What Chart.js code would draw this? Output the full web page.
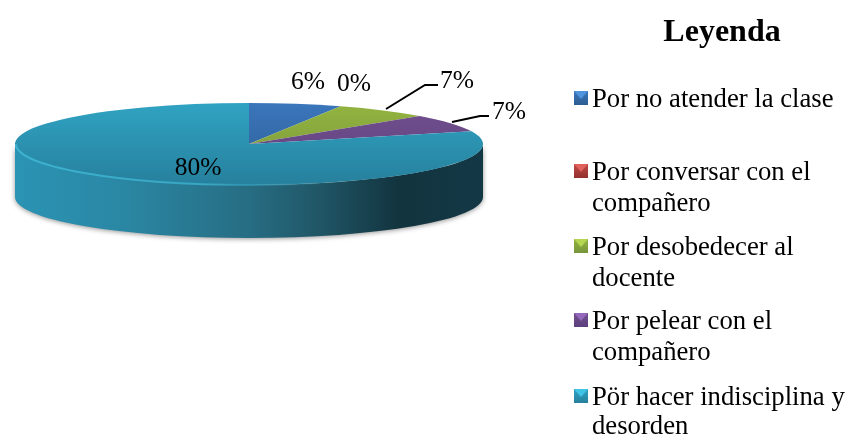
<!DOCTYPE html>
<html>
<head>
<meta charset="utf-8">
<title>Leyenda</title>
<style>
  html, body { margin: 0; padding: 0; background: #fff; overflow: hidden; }
  canvas { display: block; }
</style>
<script src="https://cdn.jsdelivr.net/npm/chart.js@4"></script>
</head>
<body>
<canvas id="pie" width="848" height="434"></canvas>
<script>
const categories = [
  ["Por no atender la clase"],
  ["Por conversar con el", "compañero"],
  ["Por desobedecer al", "docente"],
  ["Por pelear con el", "compañero"],
  ["Pör hacer indisciplina y", "desorden"]
];
// slices as they measure on the picture; the labels show them rounded
const values = [6.4, 0, 6.6, 7, 80];
const topColors = ["#3b76bb", "#bf4a47", "#93b440", "#73508f", "#30a3c2"];
const lowColors = ["#2c5c92", "#93302e", "#76953a", "#5c3f7c", "#26809d"];
const keyColors = ["#4f93dc", "#e0605c", "#b4d650", "#9468bc", "#3fc4e6"];

// layout of the flattened pie and the text around it
const FONT = '"Liberation Serif", "Times New Roman", serif';
const center = { x: 249, y: 144 };
const radiusX = 234, radiusY = 41, depth = 53;
const labelPos = [[308, 82], [354, 84], [457, 81], [509, 112], [198, 168]];
const leaders = [
  [[386, 109], [425, 85], [438, 85]],
  [[452, 122], [480, 116], [489, 116]]
];
const legendBaselines = [[107], [180, 211], [255, 286], [329, 360], [405, 434]];

const flatten3d = {
  id: "flatten3d",
  beforeDatasetsDraw(chart) {
    const ctx = chart.ctx;
    const arc = chart.getDatasetMeta(0).data[0];

    // pared frontal, solo se ve la ultima rebanada
    ctx.save();
    ctx.shadowColor = "rgba(60,60,60,0.55)";
    ctx.shadowBlur = 5;
    ctx.shadowOffsetY = 1;
    const side = ctx.createLinearGradient(center.x - radiusX, 0, center.x + radiusX, 0);
    side.addColorStop(0, "#2b93b4");
    side.addColorStop(0.22, "#2a88a5");
    side.addColorStop(0.5, "#276d83");
    side.addColorStop(0.65, "#205666");
    side.addColorStop(0.82, "#12343f");
    side.addColorStop(1, "#133845");
    ctx.fillStyle = side;
    ctx.beginPath();
    ctx.ellipse(center.x, center.y, radiusX, radiusY, 0, 0, Math.PI);
    ctx.lineTo(center.x - radiusX, center.y + depth);
    ctx.ellipse(center.x, center.y + depth, radiusX, radiusY, 0, Math.PI, 0, true);
    ctx.closePath();
    ctx.fill();
    ctx.restore();

    ctx.save();
    ctx.translate(center.x, center.y);
    ctx.scale(radiusX / arc.outerRadius, radiusY / arc.outerRadius);
    ctx.translate(-arc.x, -arc.y);
  },
  afterDatasetsDraw(chart) {
    const ctx = chart.ctx;
    ctx.restore();

    // bisel del borde, se apaga hacia la derecha
    const rim = ctx.createLinearGradient(center.x - radiusX, 0, center.x + radiusX, 0);
    rim.addColorStop(0, "rgba(60,178,208,1)");
    rim.addColorStop(0.4, "rgba(56,170,198,0.9)");
    rim.addColorStop(0.68, "rgba(48,150,178,0)");
    rim.addColorStop(1, "rgba(48,150,178,0)");
    ctx.strokeStyle = rim;
    ctx.lineWidth = 2;
    ctx.beginPath();
    ctx.ellipse(center.x, center.y, radiusX - 1, radiusY, 0, 0, Math.PI);
    ctx.stroke();

    ctx.strokeStyle = "#000";
    ctx.lineWidth = 2;
    leaders.forEach(pts => {
      ctx.beginPath();
      pts.forEach((p, i) => i ? ctx.lineTo(p[0], p[1]) : ctx.moveTo(p[0], p[1]));
      ctx.stroke();
    });

    ctx.fillStyle = "#000";
    ctx.font = "25.5px " + FONT;
    ctx.textAlign = "center";
    ctx.textBaseline = "middle";
    values.forEach((v, i) => ctx.fillText(Math.round(v) + "%", labelPos[i][0], labelPos[i][1]));

    // leyenda
    ctx.textBaseline = "alphabetic";
    ctx.font = "bold 32px " + FONT;
    ctx.fillText("Leyenda", 722, 41);

    ctx.textAlign = "left";
    ctx.font = "26.7px " + FONT;
    categories.forEach((lines, i) => {
      lines.forEach((line, j) => {
        ctx.fillStyle = "#000";
        ctx.fillText(line, 592, legendBaselines[i][j]);
      });
      const y = legendBaselines[i][0] - 16;
      const g = ctx.createLinearGradient(0, y, 0, y + 14);
      g.addColorStop(0, topColors[i]);
      g.addColorStop(1, lowColors[i]);
      ctx.fillStyle = g;
      ctx.fillRect(574, y, 14, 14);
      ctx.fillStyle = keyColors[i];
      ctx.beginPath();
      ctx.moveTo(574, y);
      ctx.lineTo(588, y);
      ctx.lineTo(581, y + 8);
      ctx.closePath();
      ctx.fill();
    });
  }
};

new Chart(document.getElementById("pie"), {
  type: "pie",
  data: {
    labels: categories,
    datasets: [{
      data: values,
      borderWidth: 0,
      backgroundColor: c => {
        const area = c.chart.chartArea;
        if (!area) return topColors[c.dataIndex];
        const g = c.chart.ctx.createLinearGradient(0, area.top, 0, area.bottom);
        g.addColorStop(0, topColors[c.dataIndex]);
        g.addColorStop(1, lowColors[c.dataIndex]);
        return g;
      }
    }]
  },
  options: {
    responsive: false,
    animation: false,
    layout: { padding: { right: 380 } },
    plugins: { legend: { display: false }, title: { display: false }, tooltip: { enabled: false } }
  },
  plugins: [flatten3d]
});
</script>
</body>
</html>
